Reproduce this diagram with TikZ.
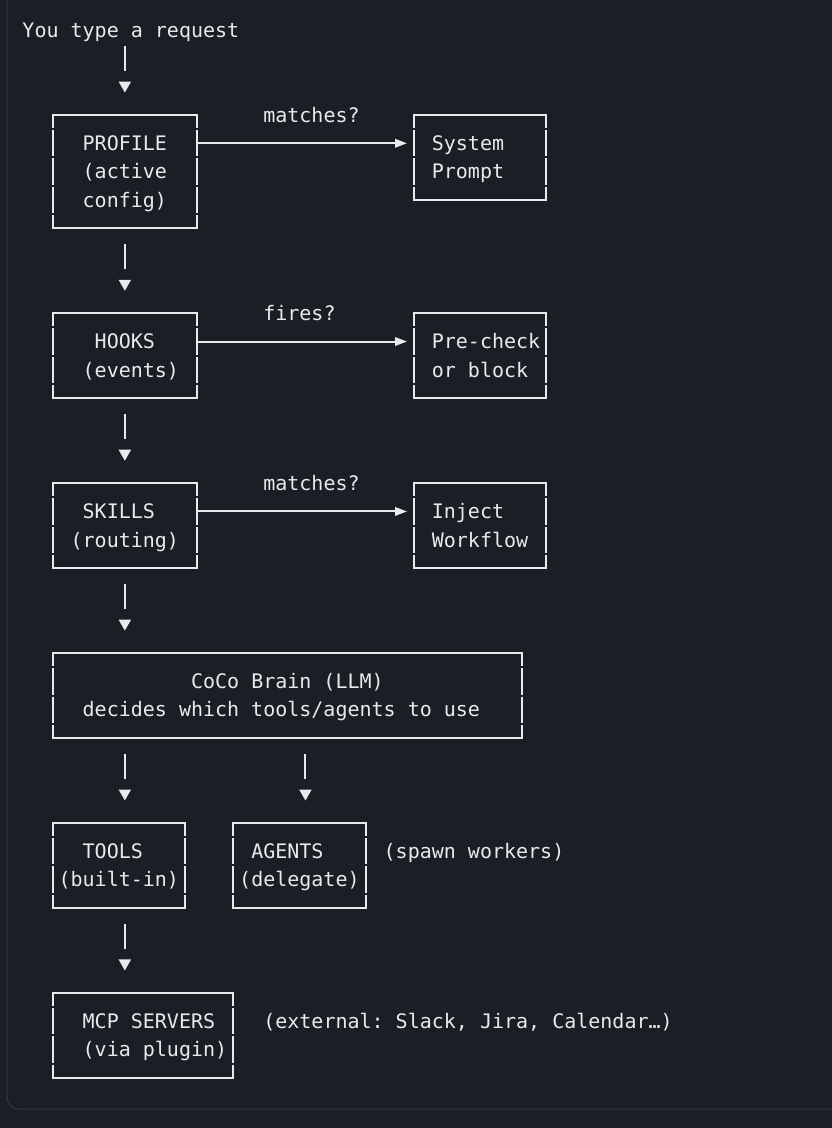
\documentclass[tikz,border=0pt]{standalone}
\usepackage{fontspec}
\setmainfont{DejaVu Sans Mono}
\usetikzlibrary{arrows.meta,calc}
\definecolor{bgc}{HTML}{1B1E25}
\definecolor{fgc}{HTML}{E8EAED}
\definecolor{panelc}{HTML}{34373E}
\newcommand{\rs}{\rule[-6.86pt]{0pt}{28.32pt}}
\newcommand{\pad}[1]{\hphantom{#1}}
\newcommand{\colx}[1]{(22.5+12.04*(#1))}
\newcommand{\rowy}[1]{(30+28.32*(#1))}
\newcommand{\boxborder}[1]{%
  \draw[hbord] (#1.north west) -- (#1.north east);
  \draw[hbord] (#1.south west) -- (#1.south east);
  \draw[vbord] (#1.north west) -- (#1.south west);
  \draw[vbord] (#1.north east) -- (#1.south east);}
\frenchspacing
\begin{document}
\begin{tikzpicture}[x=1pt,y=-1pt,
  txt/.style={text=fgc, font=\fontsize{20pt}{28.32pt}\selectfont, inner sep=0pt, outer sep=0pt, anchor=west},
  box/.style={text=fgc, font=\fontsize{20pt}{28.32pt}\selectfont, inner sep=0pt, outer sep=0pt, align=center, anchor=north west},
  hbord/.style={draw=fgc, line width=1.9pt, line cap=rect},
  vbord/.style={draw=fgc, line width=1.9pt, dash pattern=on 26.32pt off 2pt, dash phase=13.16pt},
  pipe/.style={draw=fgc, line width=1.9pt, shorten <=15.8pt, shorten >=22.4pt, dash pattern=on 25pt off 40pt, -{Triangle[length=11pt,width=12pt]}},
  harr/.style={draw=fgc, line width=2pt, shorten >=6.8pt, -{Triangle[length=12pt,width=8.5pt]}}
]
\useasboundingbox (0,0) rectangle (832,1128);
\fill[bgc] (0,0) rectangle (832,1128);
\begin{scope}
\clip (0,0) rectangle (832,1128);
\draw[panelc, line width=1pt, rounded corners=12pt] (7,-30) rectangle (870,1109);
\end{scope}

% helper coordinates
\coordinate (p8) at ({\colx{8.5}},0);
\coordinate (p23) at ({\colx{23.5}},0);
\coordinate (a4) at (0,{\rowy{4}});
\coordinate (a11) at (0,{\rowy{11}});
\coordinate (a17) at (0,{\rowy{17}});

% free texts
\node[txt] (req) at ({\colx{0}},{\rowy{0}}) {\rs You type a request};
\node[txt] (lm1) at ({\colx{20}},{\rowy{3}}) {\rs matches?};
\node[txt] (lf1) at ({\colx{20}},{\rowy{10}}) {\rs fires?};
\node[txt] (lm2) at ({\colx{20}},{\rowy{16}}) {\rs matches?};
\node[txt] (spawn) at ({\colx{30}},{\rowy{29}}) {\rs (spawn workers)};
\node[txt] (ext) at ({\colx{20}},{\rowy{35}}) {\rs (external: Slack, Jira, Calendar…)};

% boxes
\node[box, minimum width={12.04*12}, minimum height={28.32*4}] (profile) at ({\colx{2.5}},{\rowy{3}})
  {\rs\pad{xx}PROFILE\pad{xx}\\\rs\pad{xx}(active\pad{xx}\\\rs\pad{xx}config)\pad{xx}};
\node[box, minimum width={12.04*11}, minimum height={28.32*3}] (sysp) at ({\colx{32.5}},{\rowy{3}})
  {\rs\pad{x}System\pad{xxx}\\\rs\pad{x}Prompt\pad{xxx}};

\node[box, minimum width={12.04*12}, minimum height={28.32*3}] (hooks) at ({\colx{2.5}},{\rowy{10}})
  {\rs\pad{xxx}HOOKS\pad{xxx}\\\rs\pad{xx}(events)\pad{x}};
\node[box, minimum width={12.04*11}, minimum height={28.32*3}] (prec) at ({\colx{32.5}},{\rowy{10}})
  {\rs\pad{x}Pre-check\\\rs\pad{x}or block\pad{x}};

\node[box, minimum width={12.04*12}, minimum height={28.32*3}] (skills) at ({\colx{2.5}},{\rowy{16}})
  {\rs\pad{xx}SKILLS\pad{xxx}\\\rs\pad{x}(routing)\pad{x}};
\node[box, minimum width={12.04*11}, minimum height={28.32*3}] (inject) at ({\colx{32.5}},{\rowy{16}})
  {\rs\pad{x}Inject\pad{xxx}\\\rs\pad{x}Workflow\pad{x}};

\node[box, minimum width={12.04*39}, minimum height={28.32*3}] (coco) at ({\colx{2.5}},{\rowy{22}})
  {\rs\pad{xxxxxxxxxxx}CoCo Brain (LLM)\pad{xxxxxxxxxxx}\\\rs\pad{xx}decides which tools/agents to use\pad{xxx}};

\node[box, minimum width={12.04*11}, minimum height={28.32*3}] (tools) at ({\colx{2.5}},{\rowy{28}})
  {\rs\pad{xx}TOOLS\pad{xxx}\\\rs(built-in)};
\node[box, minimum width={12.04*11}, minimum height={28.32*3}] (agents) at ({\colx{17.5}},{\rowy{28}})
  {\rs\pad{x}AGENTS\pad{xxx}\\\rs(delegate)};

\node[box, minimum width={12.04*15}, minimum height={28.32*3}] (mcp) at ({\colx{2.5}},{\rowy{34}})
  {\rs\pad{xx}MCP SERVERS\pad{x}\\\rs\pad{xx}(via plugin)};

\boxborder{profile}\boxborder{sysp}
\boxborder{hooks}\boxborder{prec}
\boxborder{skills}\boxborder{inject}
\boxborder{coco}
\boxborder{tools}\boxborder{agents}
\boxborder{mcp}

% vertical connectors
\draw[pipe] (req.west -| profile.north) -- (profile.north);
\draw[pipe] (profile.south) -- (hooks.north);
\draw[pipe] (hooks.south) -- (skills.north);
\draw[pipe] (skills.south) -- (skills.south |- coco.north);
\draw[pipe] (coco.south -| p8) -- (tools.north -| p8);
\draw[pipe] (coco.south -| p23) -- (agents.north -| p23);
\draw[pipe] (tools.south -| p8) -- (mcp.north -| p8);

% horizontal connectors
\draw[harr] (profile.east |- a4) -- (sysp.west |- a4);
\draw[harr] (hooks.east |- a11) -- (prec.west |- a11);
\draw[harr] (skills.east |- a17) -- (inject.west |- a17);
\end{tikzpicture}
\end{document}
